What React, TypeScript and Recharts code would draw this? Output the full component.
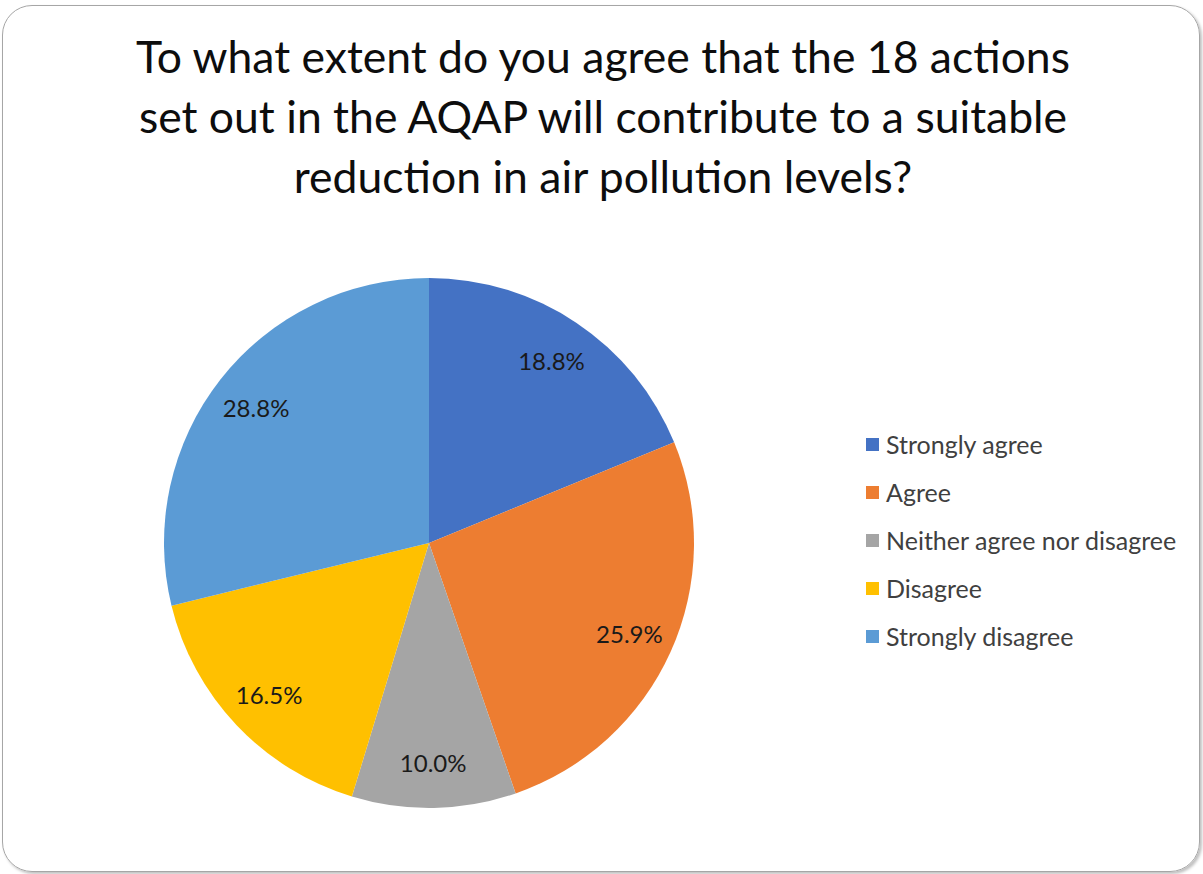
import { Cell, Legend, Pie, PieChart } from "recharts";

const categories = [
  "Strongly agree",
  "Agree",
  "Neither agree nor disagree",
  "Disagree",
  "Strongly disagree",
];
const shares = [18.8, 25.9, 10.0, 16.5, 28.8];
const colors = ["#4472C4", "#ED7D31", "#A5A5A5", "#FFC000", "#5B9BD5"];
const titleLines = [
  "To what extent do you agree that the 18 actions",
  "set out in the AQAP will contribute to a suitable",
  "reduction in air pollution levels?",
];

const data = categories.map((name, i) => ({ name, value: shares[i] }));

const FONT = "Lato, 'Open Sans', sans-serif";
const RAD = Math.PI / 180;

function renderLabel(props: any) {
  const { cx, cy, midAngle, outerRadius, value } = props;
  const r = outerRadius * 0.83;
  const x = cx + r * Math.cos(-midAngle * RAD);
  const y = cy + r * Math.sin(-midAngle * RAD);
  return (
    <text
      x={x}
      y={y}
      textAnchor="middle"
      dominantBaseline="central"
      fontSize={24}
      fontFamily={FONT}
      fill="#1a1a1a"
    >
      {value.toFixed(1)}%
    </text>
  );
}

function LegendBox({ payload }: any) {
  const items = [...(payload || [])].sort(
    (a: any, b: any) => categories.indexOf(a.value) - categories.indexOf(b.value)
  );
  return (
    <div style={{ fontFamily: FONT }}>
      {items.map((p: any) => (
        <div
          key={p.value}
          style={{ display: "flex", alignItems: "center", height: 48 }}
        >
          <span
            style={{
              width: 13,
              height: 13,
              background: p.color,
              marginRight: 7,
              display: "inline-block",
            }}
          />
          <span style={{ fontSize: 25, color: "#404040" }}>{p.value}</span>
        </div>
      ))}
    </div>
  );
}

export default function App() {
  return (
    <div
      style={{
        position: "absolute",
        left: 0,
        top: 0,
        width: 1203,
        height: 874,
        background: "#fff",
      }}
    >
      <div
        style={{
          position: "absolute",
          left: 2,
          top: 5,
          width: 1196,
          height: 865,
          border: "1px solid #a6a6a6",
          borderRadius: 30,
          boxShadow: "2px 2px 3px rgba(0,0,0,0.25)",
        }}
      />
      <div
        style={{
          position: "absolute",
          left: 0,
          top: 26,
          width: 1206,
          textAlign: "center",
          fontFamily: FONT,
          fontSize: 44.5,
          lineHeight: "60px",
          color: "#0d0d0d",
        }}
      >
        {titleLines.map((t) => (
          <div key={t}>{t}</div>
        ))}
      </div>
      <div style={{ position: "absolute", left: 0, top: 0 }}>
        <PieChart
          width={1203}
          height={874}
          margin={{ top: 0, right: 0, bottom: 0, left: 0 }}
        >
          <Pie
            data={data}
            dataKey="value"
            nameKey="name"
            cx={429}
            cy={543}
            outerRadius={265}
            startAngle={90}
            endAngle={-270}
            stroke="none"
            label={renderLabel}
            labelLine={false}
            isAnimationActive={false}
          >
            {data.map((d, i) => (
              <Cell key={d.name} fill={colors[i]} />
            ))}
          </Pie>
          <Legend
            layout="vertical"
            itemSorter={null as any}
            content={<LegendBox />}
            wrapperStyle={{ left: 866, top: 420, width: 335 }}
          />
        </PieChart>
      </div>
    </div>
  );
}
